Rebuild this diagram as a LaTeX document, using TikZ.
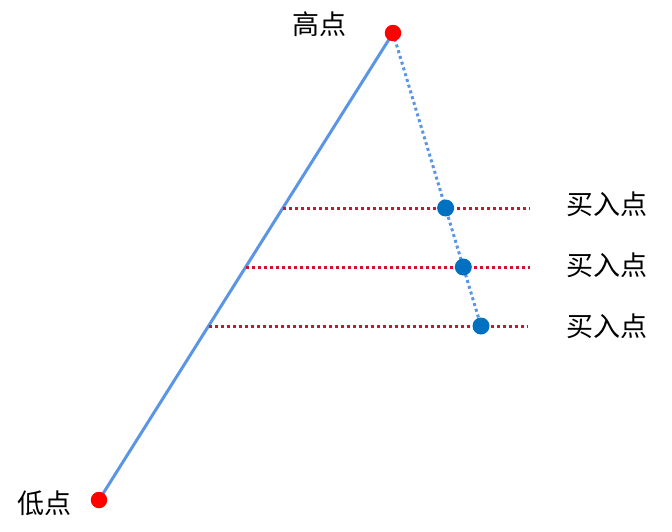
\documentclass[tikz,border=0pt]{standalone}
\usepackage{fontspec}
\newfontfamily\cjk{Noto Sans CJK SC}
\definecolor{lineblue}{HTML}{5B95E5}
\definecolor{dotblue}{HTML}{0070C0}
\definecolor{hlred}{HTML}{D0142E}
\definecolor{ptred}{HTML}{FF0000}
\begin{document}
\begin{tikzpicture}[x=1pt,y=-1pt,
  lbl/.style={font=\cjk\fontsize{27}{29}\selectfont, inner sep=0pt},
  redpt/.style={circle, fill=ptred, inner sep=0pt, minimum size=16.5pt},
  bluept/.style={circle, fill=dotblue, inner sep=0pt, minimum size=17pt},
  hline/.style={hlred, line width=3pt, dash pattern=on 3pt off 3pt},
  dline/.style={lineblue, line width=3pt, dash pattern=on 3pt off 3pt},
  sline/.style={lineblue, line width=3pt}]
\useasboundingbox (0,0) rectangle (672,531);
\coordinate (H) at (393,33);
\coordinate (L) at (99,500);
\coordinate (B1) at (445.6,208);
\coordinate (B2) at (463.3,267);
\coordinate (B3) at (481,326);
\coordinate (A1) at (282.8,208);
\coordinate (A2) at (245.7,267);
\coordinate (A3) at (208.5,326);
\coordinate (E1) at (530,208);
\coordinate (E2) at (530,267);
\coordinate (E3) at (528,326);
\draw[sline] (L) -- (H);
\draw[dline] (H) -- (B3);
\draw[hline] (A1) -- (E1);
\draw[hline] (A2) -- (E2);
\draw[hline] (A3) -- (E3);
\node[redpt] (hp) at (H) {};
\node[redpt] (lp) at (L) {};
\node[bluept] (b1) at (B1) {};
\node[bluept] (b2) at (B2) {};
\node[bluept] (b3) at (B3) {};
\node[lbl] (th) at (319,24) {高点};
\node[lbl] (tl) at (44,503) {低点};
\node[lbl] (t1) at (607,204) {买入点};
\node[lbl] (t2) at (607,265) {买入点};
\node[lbl] (t3) at (607,326) {买入点};
\end{tikzpicture}
\end{document}
